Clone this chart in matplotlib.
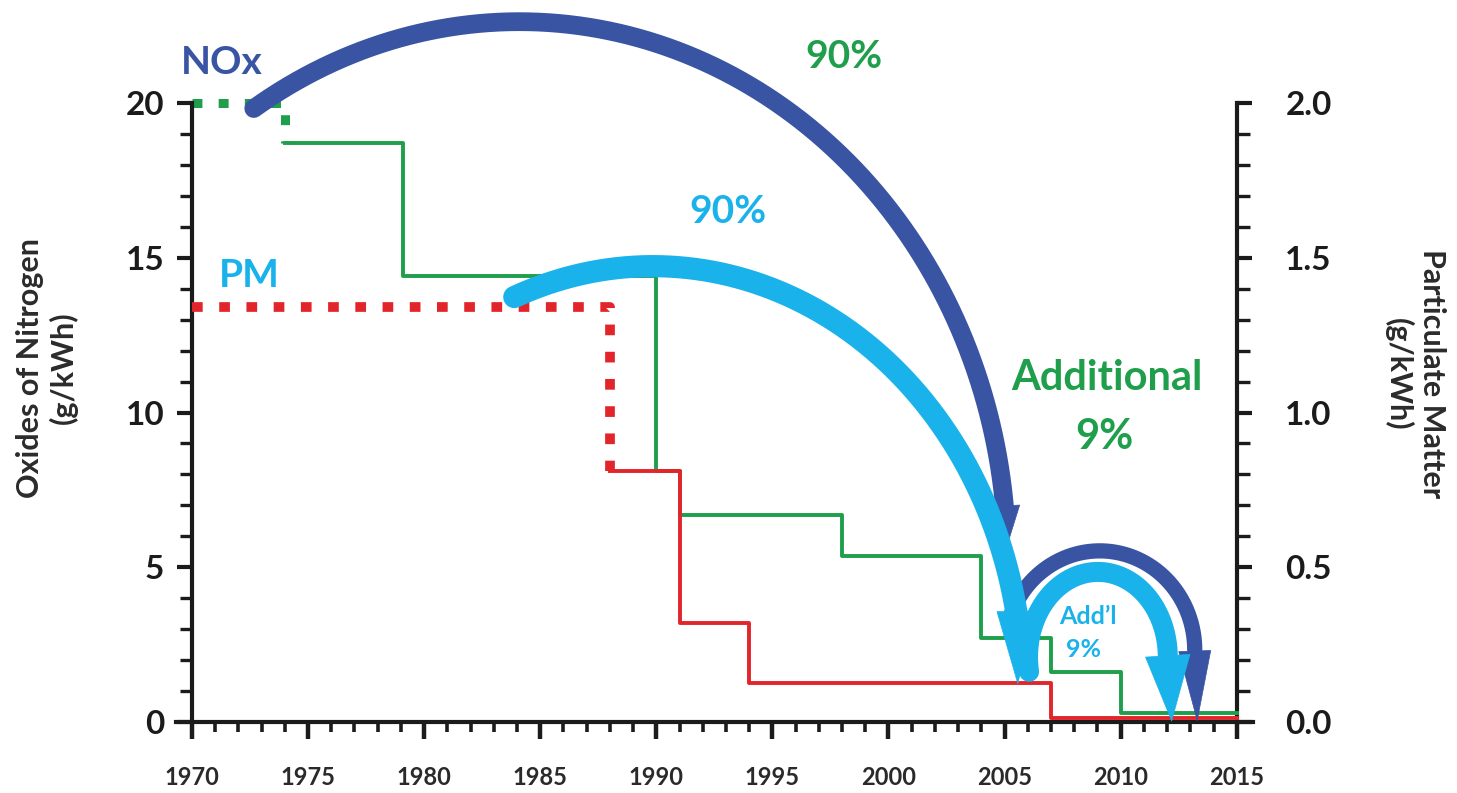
import numpy as np
import matplotlib
matplotlib.use("Agg")
import matplotlib.pyplot as plt
from matplotlib.ticker import FixedLocator

# -----------------------------
# DATA
# -----------------------------
# NOx standard (left axis, g/kWh)
nox_dotted_years = [1970, 1974]
nox_dotted_vals = [20, 18.7]
nox_years = [1974, 1979.1, 1990, 1991, 1998, 2004, 2007, 2010, 2015]
nox_vals = [18.7, 14.4, 8.1, 6.7, 5.35, 2.7, 1.6, 0.3, 0.3]

# PM standard (right axis, g/kWh)
pm_dotted_years = [1970, 1988]
pm_dotted_vals = [1.34, 0.81]
pm_years = [1988, 1991, 1994, 2007, 2015]
pm_vals = [0.81, 0.32, 0.125, 0.013, 0.013]

PM_SCALE = 10  # 2.0 g/kWh PM sits level with 20 g/kWh NOx

nox_ticks = [0, 5, 10, 15, 20]
pm_ticks = [0.0, 0.5, 1.0, 1.5, 2.0]
year_ticks = [1970, 1975, 1980, 1985, 1990, 1995, 2000, 2005, 2010, 2015]

# colours
GREEN = "#1f9e4b"
RED = "#e2252b"
DARK_BLUE = "#3a54a4"
LIGHT_BLUE = "#1ab2ea"
INK = "#1b1b1b"

plt.rcParams["font.family"] = ["Lato", "DejaVu Sans"]
plt.rcParams["font.weight"] = "bold"

# -----------------------------
# FIGURE / AXES
# -----------------------------
W, H = 1457, 793
fig = plt.figure(figsize=(W / 100, H / 100), dpi=100)
ax = fig.add_axes([175.7 / W, 71 / H, (1253 - 175.7) / W, 722 / H])
ax.set_xlim(1969.3, 2015.7)
ax.set_ylim(0, 23.33)

for side in ["top", "right"]:
    ax.spines[side].set_visible(False)
ax.spines["left"].set_position(("data", 1970))
ax.spines["left"].set_bounds(0, 20)
ax.spines["left"].set_linewidth(3)
ax.spines["bottom"].set_linewidth(3)
ax.spines["left"].set_color(INK)
ax.spines["bottom"].set_color(INK)

ax.yaxis.set_major_locator(FixedLocator(nox_ticks))
ax.yaxis.set_minor_locator(FixedLocator(np.arange(0, 21)))
ax.xaxis.set_major_locator(FixedLocator(year_ticks))
ax.xaxis.set_minor_locator(FixedLocator(np.arange(1970, 2016)))
ax.set_yticklabels([str(v) for v in nox_ticks])
ax.set_xticklabels([str(v) for v in year_ticks])

ax.tick_params(axis="y", which="major", length=11, width=3, color=INK,
               labelsize=24, pad=9, labelcolor=INK)
ax.tick_params(axis="y", which="minor", length=9, width=2.4, color=INK)
ax.tick_params(axis="x", which="major", length=12.5, width=3.2, color=INK,
               labelsize=17, pad=19, labelcolor="#2a2a2a")
ax.tick_params(axis="x", which="minor", length=7.5, width=2.6, color=INK)

xmin, xmax = ax.get_xlim()
sec = ax.secondary_yaxis((2015 - xmin) / (xmax - xmin),
                         functions=(lambda y: y / PM_SCALE, lambda y: y * PM_SCALE))
sec.yaxis.set_major_locator(FixedLocator(pm_ticks))
sec.yaxis.set_minor_locator(FixedLocator(np.round(np.arange(0, 2.01, 0.1), 2)))
sec.set_yticklabels([f"{v:.1f}" for v in pm_ticks])
sec.spines["right"].set_bounds(0, 2)
sec.spines["right"].set_linewidth(3)
sec.spines["right"].set_color(INK)
sec.tick_params(axis="y", which="major", length=11, width=3, color=INK,
                labelsize=24, pad=24, labelcolor=INK)
sec.tick_params(axis="y", which="minor", length=9, width=2.4, color=INK)

# -----------------------------
# STEP LINES
# -----------------------------
ax.step(nox_dotted_years, nox_dotted_vals, where="post", color=GREEN, lw=6.5,
        linestyle=(0, (1.1, 1.8)), zorder=2)
ax.step(nox_years, nox_vals, where="post", color=GREEN, lw=2.8, zorder=2)
ax.step(pm_dotted_years, np.array(pm_dotted_vals) * PM_SCALE, where="post",
        color=RED, lw=7, linestyle=(0, (1.1, 1.7)), zorder=3)
ax.step(pm_years, np.array(pm_vals) * PM_SCALE, where="post", color=RED,
        lw=2.8, zorder=3)


# -----------------------------
# REDUCTION ARROWS
# -----------------------------
def draw_arc(cx, cy, a, b, t0, t1, tip, color, lw, head_len, head_w):
    t = np.radians(np.linspace(t0, t1, 300))
    x = cx + a * np.cos(t)
    y = cy + b * np.sin(t)
    ax.plot(x, y, color=color, lw=lw, solid_capstyle="round", zorder=5)
    ax.annotate("", xy=tip, xytext=(x[-1], y[-1]), zorder=5,
                arrowprops=dict(arrowstyle=f"-|>,head_length={head_len},head_width={head_w}",
                                mutation_scale=1, color=color, lw=0.5,
                                shrinkA=0, shrinkB=0))


draw_arc(1984.1, 5.23, 21.0, 17.4, 123, 5.7, (2005.1, 5.65), DARK_BLUE, 13.5, 29, 11)
draw_arc(2009.1, 2.33, 4.09, 3.2, 161, 0, (2013.3, 0.0), DARK_BLUE, 11, 50, 11.5)
draw_arc(2009.02, 2.1, 3.01, 2.75, 190, 0, (2012.2, 0.0), LIGHT_BLUE, 14.4, 47, 16)
draw_arc(1989.85, 1.03, 15.93, 13.7, 112, 10.5, (2005.57, 1.2), LIGHT_BLUE, 16, 52, 14)

# -----------------------------
# LABELS
# -----------------------------
ax.text(1971.3, 21.3, "NOx", color=DARK_BLUE, fontsize=28, ha="center", va="center", zorder=6)
ax.text(1972.45, 14.44, "PM", color=LIGHT_BLUE, fontsize=28, ha="center", va="center", zorder=6)
ax.text(1998.1, 21.5, "90%", color=GREEN, fontsize=28, ha="center", va="center", zorder=6)
ax.text(1993.1, 16.5, "90%", color=LIGHT_BLUE, fontsize=28, ha="center", va="center", zorder=6)
ax.text(2009.4, 11.1, "Additional", color=GREEN, fontsize=30, ha="center", va="center", zorder=6)
ax.text(2009.3, 9.2, "9%", color=GREEN, fontsize=30, ha="center", va="center", zorder=6)
ax.text(2008.6, 3.42, "Add\u2019l", color=LIGHT_BLUE, fontsize=18, ha="center", va="center", zorder=6)
ax.text(2008.4, 2.33, "9%", color=LIGHT_BLUE, fontsize=18, ha="center", va="center", zorder=6)

fig.text(47 / W, 1 - 368 / H, "Oxides of Nitrogen\n(g/kWh)", rotation=90, fontsize=22,
         color="#2b2b2b", ha="center", va="center", multialignment="center")
fig.text(1415 / W, 1 - 374 / H, "Particulate Matter\n(g/kWh)", rotation=270, fontsize=22,
         color="#2b2b2b", ha="center", va="center", multialignment="center")

fig.savefig("out.png", dpi=100, facecolor="white")
